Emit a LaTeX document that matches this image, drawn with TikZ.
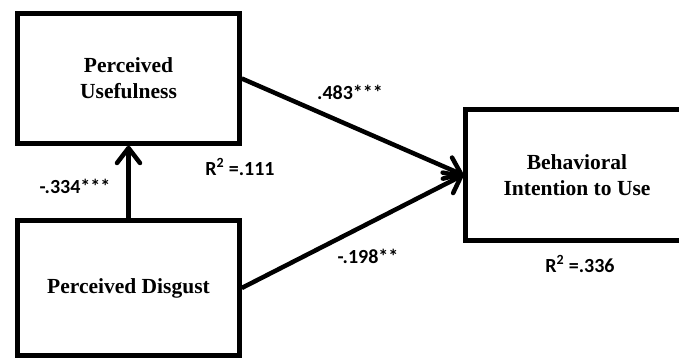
\documentclass[tikz,border=0pt]{standalone}
\usepackage{fontspec}
\setmainfont{Liberation Serif}
\newfontfamily\calfont{Carlito}
\usetikzlibrary{arrows.meta,positioning}
\tikzset{bx/.style={draw,rectangle,line width=4.5pt,minimum width=222pt,minimum height=130pt,align=center,font=\fontsize{21.5}{26}\selectfont\bfseries},lb/.style={inner sep=0pt,font=\calfont\fontsize{20}{24}\selectfont\bfseries},arr/.style={-{Straight Barb[length=15pt,width=23pt,round]},line width=4.5pt}}

\begin{document}
\begin{tikzpicture}[x=1pt,y=-1pt]
\useasboundingbox(0,0)rectangle(679,360);
\clip(0,0)rectangle(679,360);
\node[bx](pu)at(128.5,78.5){Perceived\\Usefulness};
\node[bx,minimum height=135pt](pd)at(128.5,288){Perceived Disgust};
\node[bx,minimum width=223pt,minimum height=131pt](bi)at(577,175){Behavioral\\Intention to Use};
\draw[arr](pd)--(pu);
\draw[arr](pu.east)--(bi.west);
\draw[arr](pd.east)--(bi.west);
\node[lb](c1)at(75,186){-.334***};
\node[lb](c2)at(350,92){.483***};
\node[lb](c3)at(368,256){-.198**};
\node[lb](r1)at(240,167){R\textsuperscript{2} =.111};
\node[lb](r2)at(580,264){R\textsuperscript{2} =.336};
\end{tikzpicture}
\end{document}
